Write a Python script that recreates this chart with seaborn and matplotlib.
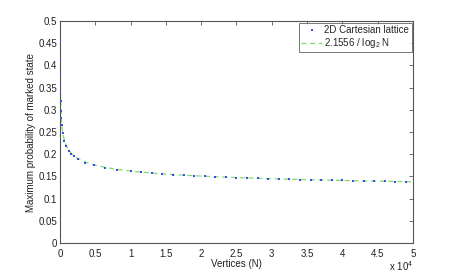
import matplotlib
matplotlib.use("Agg")
import matplotlib.pyplot as plt
import seaborn as sns
import pandas as pd
from matplotlib.ticker import FuncFormatter, MultipleLocator

# ---- data ----
lattice_N = [25, 36, 49, 64, 81, 100, 144, 196, 256, 400, 625, 900, 1225, 1600,
             2025, 2500, 3600, 4900, 6400, 8100, 10000, 11500, 13000, 14500,
             16000, 17500, 19000, 20500, 22000, 23500, 25000, 26500, 28000,
             29500, 31000, 32500, 34000, 35500, 37000, 38500, 40000, 41500,
             43000, 44500, 46000, 47500, 49000]
lattice_p = [0.456, 0.413, 0.381, 0.356, 0.337, 0.321, 0.298, 0.281, 0.267,
             0.247, 0.230, 0.218, 0.208, 0.201, 0.195, 0.190, 0.181, 0.175,
             0.170, 0.1655, 0.1617, 0.1594, 0.1573, 0.1556, 0.1540, 0.1527,
             0.1514, 0.1503, 0.1492, 0.1483, 0.1473, 0.1465, 0.1457, 0.1450,
             0.1443, 0.1437, 0.1431, 0.1425, 0.1419, 0.1414, 0.1409, 0.1404,
             0.1399, 0.1395, 0.1391, 0.1386, 0.1382]

fit_N = [20, 25, 36, 49, 64, 81, 100, 144, 196, 256, 400, 625, 900, 1225, 1600,
         2025, 2500, 3600, 4900, 6400, 8100, 10000, 11500, 13000, 14500, 16000,
         17500, 19000, 20500, 22000, 23500, 25000, 26500, 28000, 29500, 31000,
         32500, 34000, 35500, 37000, 38500, 40000, 41500, 43000, 44500, 46000,
         47500, 49000, 50000]
fit_p = [0.499, 0.464, 0.417, 0.384, 0.359, 0.340, 0.324, 0.301, 0.283, 0.269,
         0.249, 0.232, 0.2197, 0.210, 0.2025, 0.1962, 0.191, 0.1825, 0.1758,
         0.1705, 0.1660, 0.1622, 0.1598, 0.1577, 0.1559, 0.1543, 0.1529,
         0.1517, 0.1505, 0.1494, 0.1485, 0.1475, 0.1467, 0.1459, 0.1452,
         0.1445, 0.1438, 0.1432, 0.1426, 0.1420, 0.1415, 0.1410, 0.1405,
         0.1400, 0.1396, 0.1392, 0.1387, 0.1383, 0.1381]

x_ticks = [0, 5000, 10000, 15000, 20000, 25000, 30000, 35000, 40000, 45000, 50000]

sns.set_theme(style="white")
plt.rcParams['font.family'] = ['Liberation Sans', 'DejaVu Sans']
plt.rcParams['mathtext.fontset'] = 'custom'
plt.rcParams['mathtext.rm'] = 'Liberation Sans'
plt.rcParams['mathtext.it'] = 'Liberation Sans'

fig = plt.figure(figsize=(4.57, 2.74), dpi=100)
ax = fig.add_axes([0.131, 0.113, 0.773, 0.810])

df_lat = pd.DataFrame({"N": lattice_N, "p": lattice_p})
df_fit = pd.DataFrame({"N": fit_N, "p": fit_p})

sns.lineplot(data=df_fit, x="N", y="p", ax=ax, color="#7fdc6a", lw=0.9,
             linestyle=(0, (4, 3)), label="2.1556 / log$_2$ N", zorder=2)
sns.scatterplot(data=df_lat, x="N", y="p", ax=ax, color="#3a4cf0", s=1.5,
                marker="s", linewidth=0, label="2D Cartesian lattice", zorder=3)

ax.set_xlim(0, 50000)
ax.set_ylim(0, 0.5)
ax.set_xticks(x_ticks)
ax.xaxis.set_major_formatter(FuncFormatter(lambda v, p: f"{v/1e4:g}"))
ax.yaxis.set_major_locator(MultipleLocator(0.05))
ax.yaxis.set_major_formatter(FuncFormatter(lambda v, p: f"{v:.2f}".rstrip('0').rstrip('.') if v != 0 else "0"))

for s in ax.spines.values():
    s.set_color("#555555")
    s.set_linewidth(0.8)
    s.set_visible(True)
ax.tick_params(direction="in", length=3, width=0.6, color="#555555",
               labelsize=7, top=True, right=True, pad=2, labelcolor="#222222")
ax.tick_params(axis="x", pad=4)

ax.set_xlabel("Vertices (N)", fontsize=7, labelpad=0, color="#222222")
ax.set_ylabel("Maximum probability of marked state", fontsize=7, labelpad=2,
              color="#222222")
ax.text(1.0, -0.105, "x 10$^4$", transform=ax.transAxes, ha="right", va="center",
        fontsize=7, color="#222222")

handles, labels = ax.get_legend_handles_labels()
order = [labels.index("2D Cartesian lattice"), labels.index("2.1556 / log$_2$ N")]
leg = ax.legend([handles[i] for i in order], [labels[i] for i in order],
                loc="upper right", fontsize=7, frameon=True, fancybox=False,
                borderaxespad=0.15, handlelength=2.2, handletextpad=0.2,
                borderpad=0.25, labelspacing=0.1, markerscale=1.0)
leg.get_frame().set_edgecolor("#555555")
leg.get_frame().set_linewidth(0.7)

fig.savefig("out.png", dpi=100, facecolor="white")
